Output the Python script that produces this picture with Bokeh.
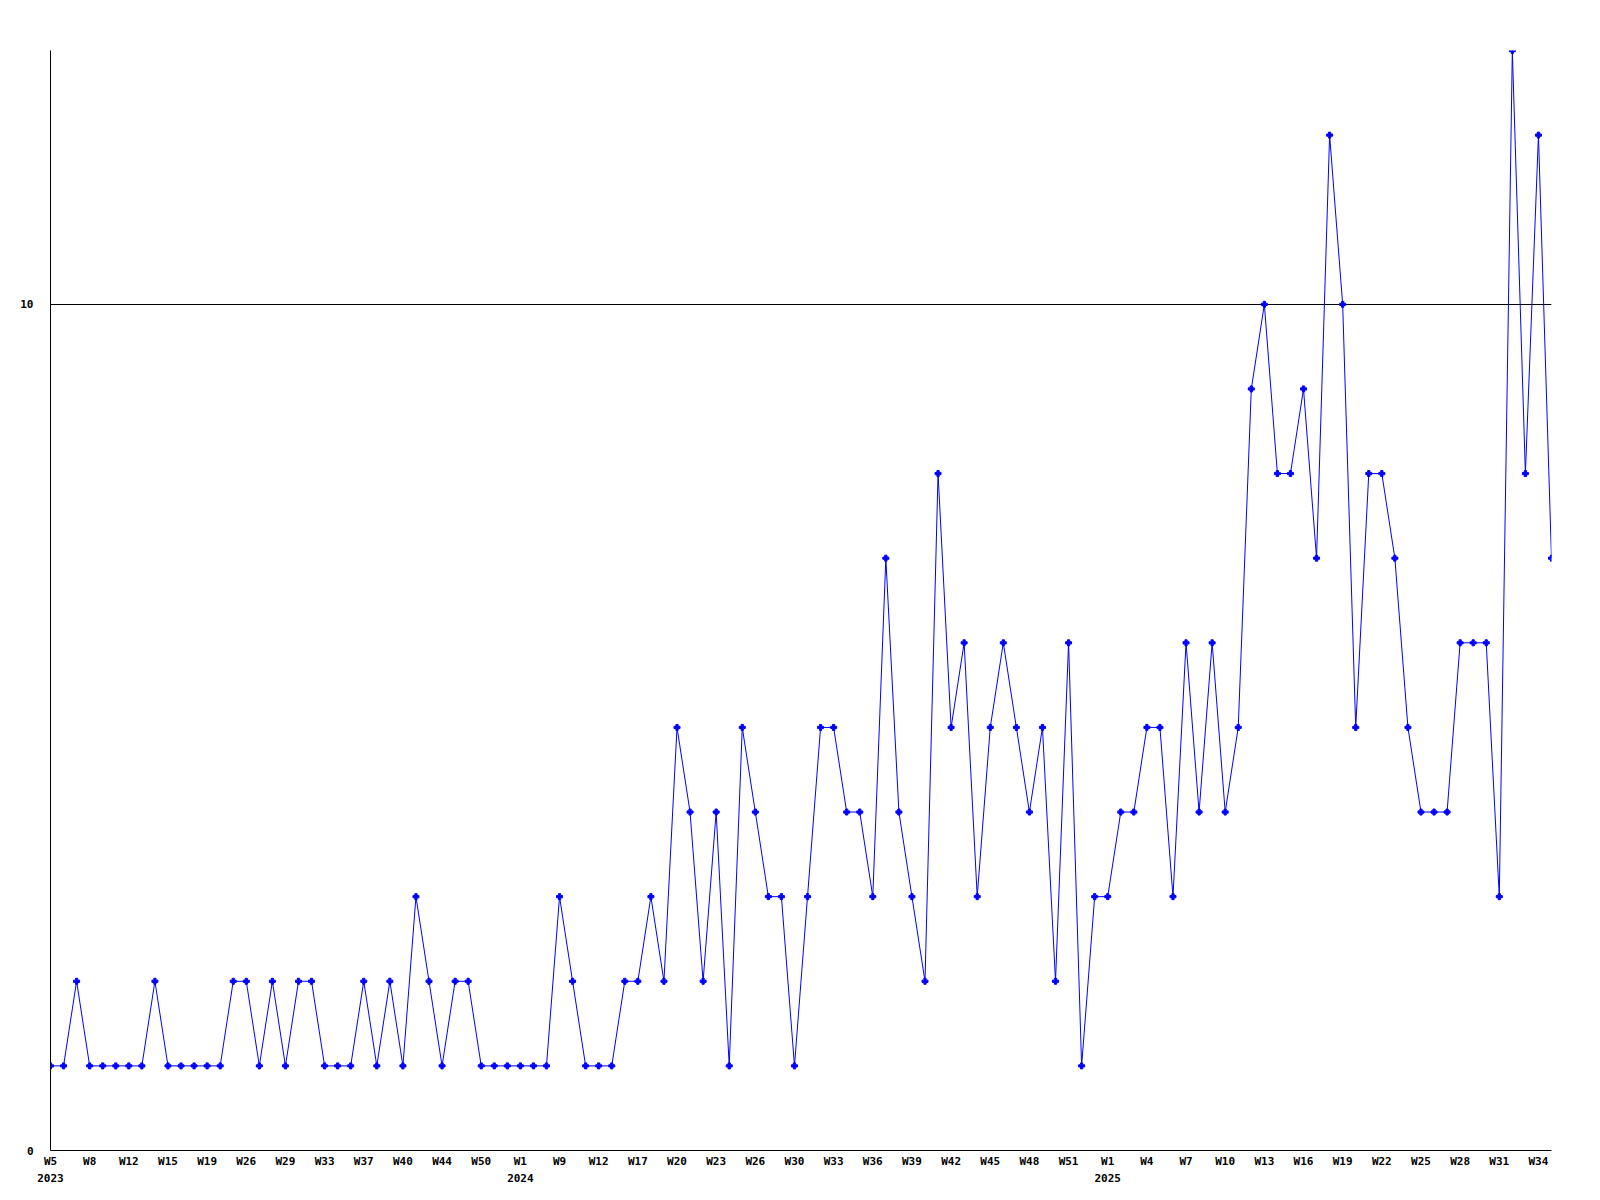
from bokeh.plotting import figure
from bokeh.models import FixedTicker, LinearAxis, Range1d, ColumnDataSource
from bokeh.embed import file_html
from bokeh.resources import INLINE

# weekly counts, one entry per plotted week (W5 2023 .. W35 2025)
values = [
    1, 1, 2, 1, 1, 1, 1, 1, 2, 1,
    1, 1, 1, 1, 2, 2, 1, 2, 1, 2,
    2, 1, 1, 1, 2, 1, 2, 1, 3, 2,
    1, 2, 2, 1, 1, 1, 1, 1, 1, 3,
    2, 1, 1, 1, 2, 2, 3, 2, 5, 4,
    2, 4, 1, 5, 4, 3, 3, 1, 3, 5,
    5, 4, 4, 3, 7, 4, 3, 2, 8, 5,
    6, 3, 5, 6, 5, 4, 5, 2, 6, 1,
    3, 3, 4, 4, 5, 5, 3, 6, 4, 6,
    4, 5, 9, 10, 8, 8, 9, 7, 12, 10,
    5, 8, 8, 7, 5, 4, 4, 4, 6, 6,
    6, 3, 13, 8, 12, 7,
]

# tick labels shown every third week
week_labels = [
    "W5", "W8", "W12", "W15", "W19", "W26", "W29", "W33", "W37", "W40", "W44", "W50",
    "W1", "W9", "W12", "W17", "W20", "W23", "W26", "W30", "W33", "W36", "W39", "W42",
    "W45", "W48", "W51",
    "W1", "W4", "W7", "W10", "W13", "W16", "W19", "W22", "W25", "W28", "W31", "W34",
]
label_every = 3

year_labels = ["2023", "2024", "2025"]
year_start_index = [0, 36, 81]

y_ticks = [0, 10]
y_max = 13

x = list(range(len(values)))
src = ColumnDataSource(data=dict(x=x, y=values))

FONT = "DejaVu Sans Mono"
FSIZE = "11px"

p = figure(
    width=1584, height=1184,
    output_backend="svg", toolbar_location=None,
    x_range=Range1d(0, len(values) - 1), y_range=Range1d(0, y_max),
    min_border_left=50, min_border_right=33, min_border_top=50, min_border_bottom=33,
    background_fill_color="white", border_fill_color="white",
)
p.outline_line_color = None

p.line("x", "y", source=src, line_color="#0000FF", line_width=1)
p.scatter("x", "y", source=src, marker="plus", size=6, color="#0000FF")

# x axis: week labels
tick_pos = [i * label_every for i in range(len(week_labels))]
xa = p.xaxis[0]
xa.ticker = FixedTicker(ticks=tick_pos)
xa.major_label_overrides = {t: lab for t, lab in zip(tick_pos, week_labels)}
xa.major_tick_line_color = None
xa.minor_tick_line_color = None
xa.major_tick_out = 0
xa.major_tick_in = 0
xa.major_label_standoff = 4
xa.axis_line_color = "black"
xa.axis_line_width = 1
xa.major_label_text_font = FONT
xa.major_label_text_font_style = "bold"
xa.major_label_text_font_size = FSIZE
xa.major_label_text_color = "black"

# year axis below
ya2 = LinearAxis(
    ticker=FixedTicker(ticks=year_start_index),
    major_label_overrides={t: lab for t, lab in zip(year_start_index, year_labels)},
    axis_line_color=None, major_tick_line_color=None, minor_tick_line_color=None,
    major_tick_out=0, major_tick_in=0, major_label_standoff=3,
    major_label_text_font=FONT, major_label_text_font_style="bold",
    major_label_text_font_size=FSIZE, major_label_text_color="black",
)
p.add_layout(ya2, "below")

# y axis
ya = p.yaxis[0]
ya.ticker = FixedTicker(ticks=y_ticks)
ya.major_tick_line_color = None
ya.minor_tick_line_color = None
ya.major_tick_out = 0
ya.major_tick_in = 0
ya.major_label_standoff = 17
ya.axis_line_color = "black"
ya.major_label_text_font = FONT
ya.major_label_text_font_style = "bold"
ya.major_label_text_font_size = FSIZE
ya.major_label_text_color = "black"

p.xgrid.grid_line_color = None
p.ygrid.ticker = FixedTicker(ticks=y_ticks)
p.ygrid.grid_line_color = "black"
p.ygrid.grid_line_width = 1
p.ygrid.grid_line_alpha = 1

open("out.html", "w").write(file_html(p, INLINE))
